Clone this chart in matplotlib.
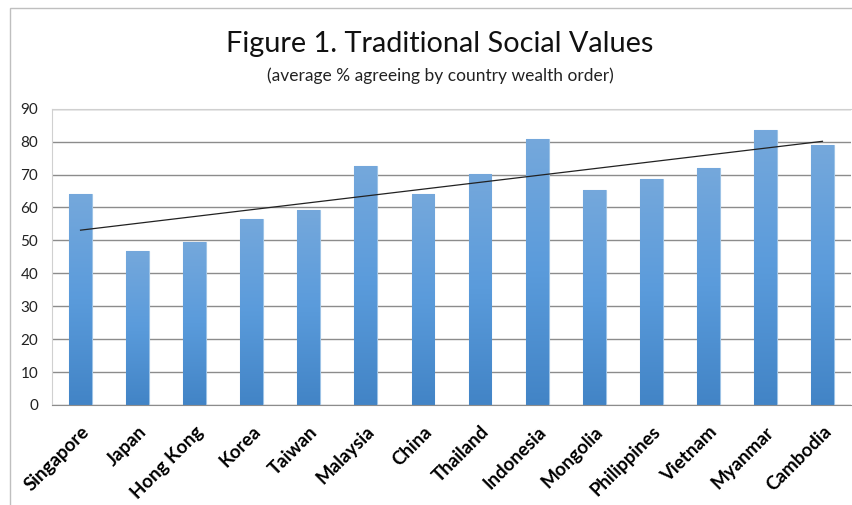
import numpy as np
import matplotlib
matplotlib.use('Agg')
import matplotlib.pyplot as plt
from matplotlib.patches import Rectangle

countries = ['Singapore', 'Japan', 'Hong Kong', 'Korea', 'Taiwan', 'Malaysia', 'China',
             'Thailand', 'Indonesia', 'Mongolia', 'Philippines', 'Vietnam', 'Myanmar', 'Cambodia']
agree = [64.0, 46.9, 49.6, 56.6, 59.1, 72.7, 64.0, 70.2, 80.9, 65.3, 68.7, 72.0, 83.4, 79.0]
yticks = [0, 10, 20, 30, 40, 50, 60, 70, 80, 90]

plt.rcParams['font.family'] = ['Lato', 'DejaVu Sans']

fig = plt.figure(figsize=(8.53, 5.05), dpi=100)
# outer chart border
fig.patches.append(Rectangle((10 / 853, -0.05), 1.0, (505 - 8) / 505 + 0.05,
                             transform=fig.transFigure, fill=False,
                             edgecolor='#bfbfbf', lw=1.0))

ax = fig.add_axes([52 / 853, 100 / 505, 799 / 853, 296.3 / 505])
x = np.arange(len(countries))
bars = ax.bar(x, agree, width=0.40, color='#5b9bd5', edgecolor='#9dc3e6', lw=0.8, zorder=2)

# vertical gradient in each bar, lighter at the top
cmap = matplotlib.colors.LinearSegmentedColormap.from_list('bar', ['#4284c6', '#5a9bdb', '#75a8dc'])
grad = np.linspace(0, 1, 256).reshape(-1, 1)
for b in bars:
    bx, by = b.get_x(), b.get_y()
    im = ax.imshow(grad, cmap=cmap, origin='lower', aspect='auto',
                   extent=(bx, bx + b.get_width(), by, by + b.get_height()), zorder=2.5)
    im.set_clip_path(b)

# linear trend
k, c = np.polyfit(x + 1, agree, 1)
ax.plot(x, k * (x + 1) + c, color='#222222', lw=0.9, zorder=3)

ax.set_xlim(-0.5, len(countries) - 0.5)
ax.set_ylim(0, 90)
ax.set_yticks(yticks)
ax.yaxis.grid(True, color='#8c8c8c', lw=1.0, zorder=0)
ax.set_axisbelow(True)
for s in ['left', 'top', 'right']:
    ax.spines[s].set_color('#d0d0d0')
ax.spines['right'].set_visible(False)
ax.spines['bottom'].set_color('#8c8c8c')
ax.tick_params(axis='both', length=0)
ax.tick_params(axis='y', labelsize=11, pad=10, labelcolor='#222222')
ax.set_xticks(x)
ax.set_xticklabels(countries, rotation=45, ha='right', va='top', rotation_mode='anchor',
                   fontsize=13.5, fontweight='bold')
ax.tick_params(axis='x', pad=13)

fig.text(0.516, 0.912, 'Figure 1. Traditional Social Values', ha='center', va='center',
         fontsize=20.8, color='#111111')
fig.text(0.516, 0.85, '(average % agreeing by country wealth order)', ha='center', va='center',
         fontsize=12.5, color='#222222')

fig.savefig('out.png', dpi=100)
